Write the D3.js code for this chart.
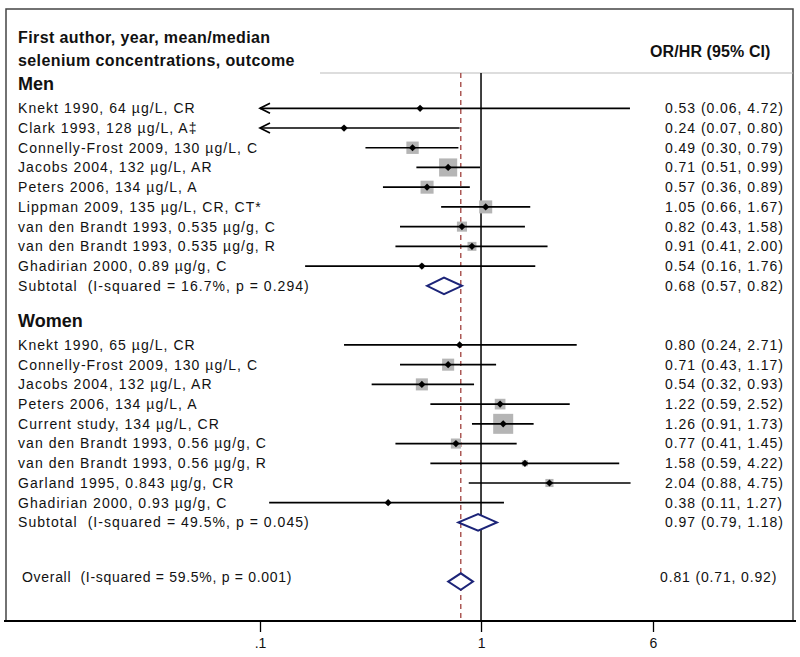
<!DOCTYPE html>
<html><head><meta charset="utf-8">
<script src="https://cdn.jsdelivr.net/npm/d3@7"></script>
<style>body{margin:0;background:#fff}svg{display:block}text{font-family:"Liberation Sans",Arial,sans-serif;fill:#111}</style>
</head><body><svg id="c" width="800" height="657"></svg>
<script>
// ---- data ----
const menLabels = ["Knekt 1990, 64 µg/L, CR","Clark 1993, 128 µg/L, A‡","Connelly-Frost 2009, 130 µg/L, C","Jacobs 2004, 132 µg/L, AR","Peters 2006, 134 µg/L, A","Lippman 2009, 135 µg/L, CR, CT*","van den Brandt 1993, 0.535 µg/g, C","van den Brandt 1993, 0.535 µg/g, R","Ghadirian 2000, 0.89 µg/g, C"];
const menEst = [0.53,0.24,0.49,0.71,0.57,1.05,0.82,0.91,0.54];
const menLo  = [0.06,0.07,0.30,0.51,0.36,0.66,0.43,0.41,0.16];
const menHi  = [4.72,0.80,0.79,0.99,0.89,1.67,1.58,2.00,1.76];
const menWeight = [0.5,0.8,6.3,13.5,7.0,7.0,4.2,3.3,0.9];
const menSubtotal = {label:"Subtotal  (I-squared = 16.7%, p = 0.294)", est:0.68, lo:0.57, hi:0.82};

const womenLabels = ["Knekt 1990, 65 µg/L, CR","Connelly-Frost 2009, 130 µg/L, C","Jacobs 2004, 132 µg/L, AR","Peters 2006, 134 µg/L, A","Current study, 134 µg/L, CR","van den Brandt 1993, 0.56 µg/g, C","van den Brandt 1993, 0.56 µg/g, R","Garland 1995, 0.843 µg/g, CR","Ghadirian 2000, 0.93 µg/g, C"];
const womenEst = [0.80,0.71,0.54,1.22,1.26,0.77,1.58,2.04,0.38];
const womenLo  = [0.24,0.43,0.32,0.59,0.91,0.41,0.59,0.88,0.11];
const womenHi  = [2.71,1.17,0.93,2.52,1.73,1.45,4.22,4.75,1.27];
const womenWeight = [0.6,6.0,6.0,4.7,16.5,4.2,1.5,2.7,0.5];
const womenSubtotal = {label:"Subtotal  (I-squared = 49.5%, p = 0.045)", est:0.97, lo:0.79, hi:1.18};

const overall = {label:"Overall  (I-squared = 59.5%, p = 0.001)", est:0.81, lo:0.71, hi:0.92};
const tickValues = [0.1, 1, 6];
const tickLabels = [".1", "1", "6"];
const groupTitles = ["Men", "Women"];
const headerLeft = ["First author, year, mean/median", "selenium concentrations, outcome"];
const headerRight = "OR/HR (95% CI)";

// ---- build rows ----
const fmt = v => v.toFixed(2);
const ciText = d => `${fmt(d.est)} (${fmt(d.lo)}, ${fmt(d.hi)})`;
const studies = [];
menLabels.forEach((l,i)=>studies.push({row:i,label:l,est:menEst[i],lo:menLo[i],hi:menHi[i],w:menWeight[i]}));
womenLabels.forEach((l,i)=>studies.push({row:12+i,label:l,est:womenEst[i],lo:womenLo[i],hi:womenHi[i],w:womenWeight[i]}));
const pooled = [Object.assign({row:9},menSubtotal), Object.assign({row:21},womenSubtotal)];
const overallRow = Object.assign({row:24}, overall);

const svg = d3.select("#c");
const x = d3.scaleLog().domain([0.1, 6]).range([260, 653]);
const y = d3.scaleLinear().domain([0, 24]).range([108.3, 581.6]);
const box = d3.scaleSqrt().domain([0, 16.5]).range([0, 20]);
const plotTop = 73, axisY = 621;

// frame
svg.append("path").attr("d",`M6,${axisY} V9 H793 V${axisY}`).attr("fill","none").attr("stroke","#444").attr("stroke-width",1.5);
svg.append("line").attr("x1",320).attr("x2",793).attr("y1",73).attr("y2",73).attr("stroke","#bbb").attr("stroke-width",1);

// header text
svg.selectAll("text.hl").data(headerLeft).join("text").attr("class","hl")
  .attr("x",18).attr("y",(d,i)=>37+i*23).attr("dy","0.35em")
  .style("font-weight","bold").style("font-size","16px").style("letter-spacing","0.4px").text(d=>d);
svg.append("text").attr("x",650).attr("y",51).attr("dy","0.35em")
  .style("font-weight","bold").style("font-size","16px").style("letter-spacing","0.1px").text(headerRight);
svg.selectAll("text.grp").data(groupTitles).join("text").attr("class","grp")
  .attr("x",18).attr("y",(d,i)=>y(i===0?-1:11)-5).attr("dy","0.35em")
  .style("font-weight","bold").style("font-size","18px").text(d=>d);

// reference lines
svg.append("line").attr("x1",x(1)).attr("x2",x(1)).attr("y1",plotTop).attr("y2",axisY).attr("stroke","#000").attr("stroke-width",1.5);
svg.append("line").attr("x1",x(overall.est)).attr("x2",x(overall.est)).attr("y1",plotTop).attr("y2",axisY)
  .attr("stroke","#a0403c").attr("stroke-width",1.3).attr("stroke-dasharray","5,4");

// boxes
svg.selectAll("rect.box").data(studies).join("rect").attr("class","box")
  .attr("x",d=>x(d.est)-box(d.w)/2).attr("y",d=>y(d.row)-box(d.w)/2)
  .attr("width",d=>box(d.w)).attr("height",d=>box(d.w)).attr("fill","#b5b5b5");

// CI lines
const [xmin, xmax] = x.domain();
svg.selectAll("line.ci").data(studies).join("line").attr("class","ci")
  .attr("x1",d=>x(Math.max(d.lo,xmin))).attr("x2",d=>x(Math.min(d.hi,xmax)))
  .attr("y1",d=>y(d.row)).attr("y2",d=>y(d.row)).attr("stroke","#000").attr("stroke-width",1.7);
// arrows for clipped lower bounds
svg.selectAll("path.arrow").data(studies.filter(d=>d.lo<xmin)).join("path").attr("class","arrow")
  .attr("d",d=>{const x0=x(xmin),yy=y(d.row);return `M${x0+10},${yy-5} L${x0},${yy} L${x0+10},${yy+5}`;})
  .attr("fill","none").attr("stroke","#000").attr("stroke-width",1.7);

// point estimates (square diamond markers)
svg.selectAll("path.pt").data(studies).join("path").attr("class","pt")
  .attr("transform",d=>`translate(${x(d.est)},${y(d.row)}) rotate(45)`)
  .attr("d",d3.symbol(d3.symbolSquare,26)).attr("fill","#000");

// diamonds
const diamond = d => {const yy=y(d.row),h=8.3;return `M${x(d.lo)},${yy} L${x(d.est)},${yy-h} L${x(d.hi)},${yy} L${x(d.est)},${yy+h} Z`;};
svg.selectAll("path.dia").data(pooled.concat([overallRow])).join("path").attr("class","dia")
  .attr("d",diamond).attr("fill","#fff").attr("stroke","#1c2478").attr("stroke-width",2);

// labels left
const leftRows = studies.concat(pooled);
svg.selectAll("text.lab").data(leftRows).join("text").attr("class","lab")
  .attr("x",18).attr("y",d=>y(d.row)).attr("dy","0.35em")
  .style("font-size","14px").style("letter-spacing","1.05px").style("white-space","pre").text(d=>d.label);
svg.append("text").attr("x",22).attr("y",y(overallRow.row)-4.5).attr("dy","0.35em")
  .style("font-size","14px").style("letter-spacing","0.7px").style("white-space","pre").text(overallRow.label);

// labels right
svg.selectAll("text.cit").data(leftRows).join("text").attr("class","cit")
  .attr("x",665).attr("y",d=>y(d.row)).attr("dy","0.35em")
  .style("font-size","14px").style("letter-spacing","0.95px").text(ciText);
svg.append("text").attr("x",660).attr("y",y(overallRow.row)-4.5).attr("dy","0.35em")
  .style("font-size","14px").style("letter-spacing","0.85px").text(ciText(overallRow));

// axis
const axis = d3.axisBottom(x).tickValues(tickValues).tickFormat((d,i)=>tickLabels[i]).tickSize(11).tickSizeOuter(0).tickPadding(6);
const g = svg.append("g").attr("transform",`translate(0,${axisY})`).call(axis);
g.select(".domain").remove();
g.selectAll(".tick line").attr("stroke","#000").attr("stroke-width",1.3);
g.selectAll(".tick text").style("font-size","14px").style("font-family","'Liberation Sans',Arial,sans-serif").attr("fill","#111");
svg.append("line").attr("x1",4).attr("x2",796).attr("y1",axisY).attr("y2",axisY).attr("stroke","#000").attr("stroke-width",2);
</script></body></html>
